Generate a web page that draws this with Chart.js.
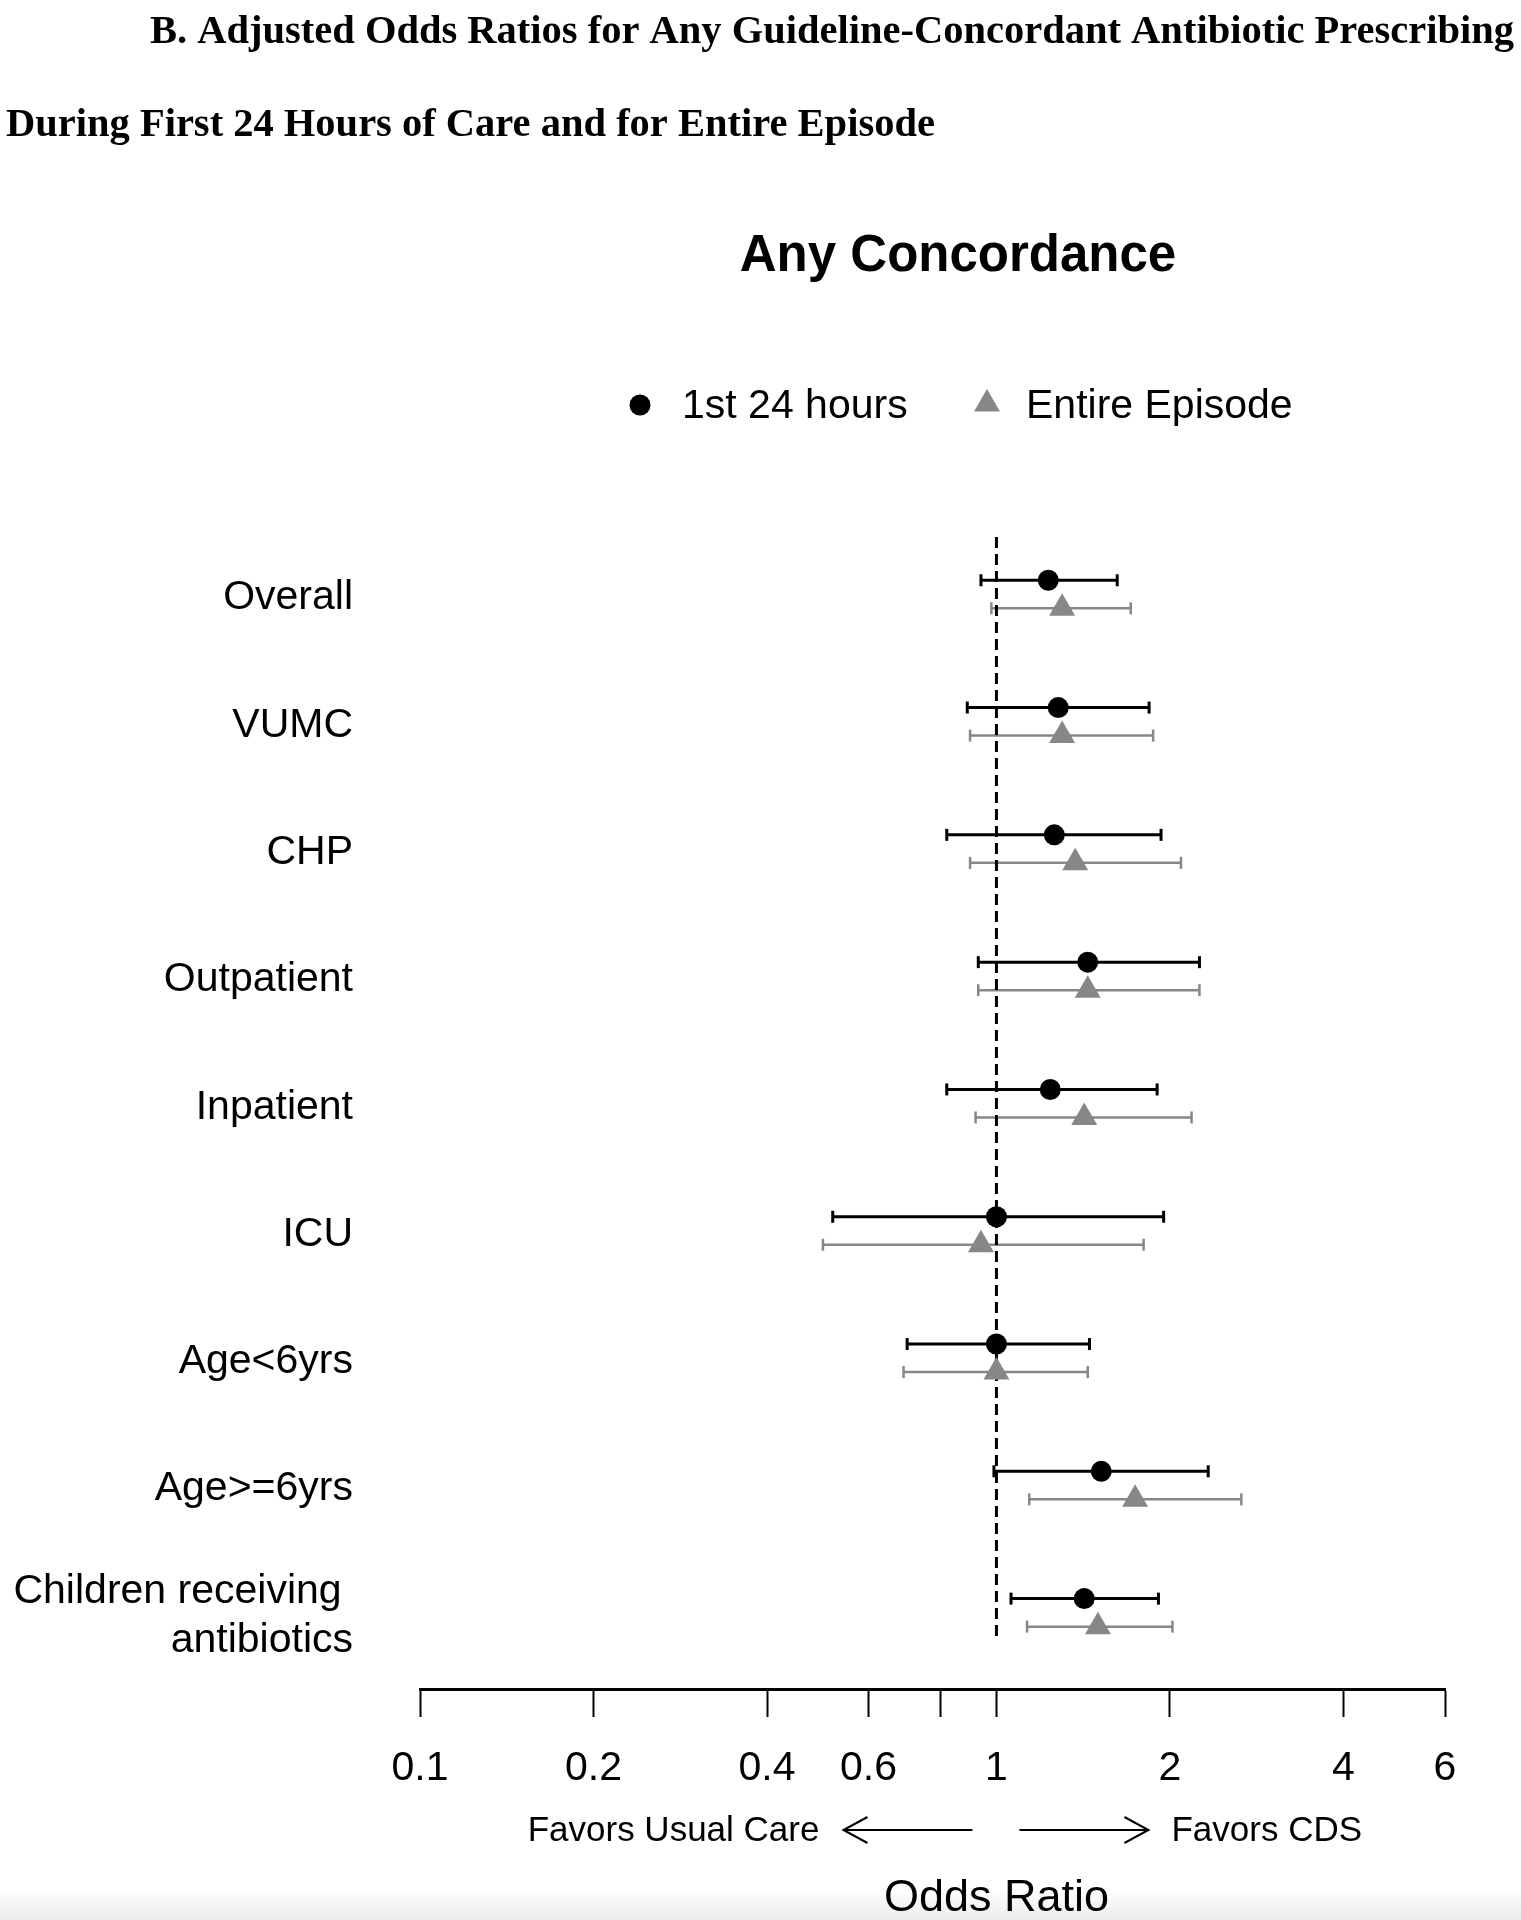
<!DOCTYPE html>
<html>
<head>
<meta charset="utf-8">
<title>Any Concordance - adjusted odds ratios</title>
<script src="https://cdn.jsdelivr.net/npm/chart.js@4.4.1/dist/chart.umd.min.js"></script>
<style>
  html, body { margin: 0; padding: 0; }
  body {
    width: 1521px; height: 1920px; overflow: hidden;
    background: linear-gradient(to bottom, #fff 0, #fff 1888px, #ececec 1920px);
  }
</style>
</head>
<body>
<canvas id="forest" width="1521" height="1920"></canvas>
<script>
// ---- data ----
const rowLabels = ['Overall', 'VUMC', 'CHP', 'Outpatient', 'Inpatient', 'ICU',
  'Age<6yrs', 'Age>=6yrs', ['Children receiving ', 'antibiotics']];

const seriesNames = ['1st 24 hours', 'Entire Episode'];

// 1st 24 hours: odds ratio with 95% CI
const first24OR = [1.23, 1.28, 1.26, 1.44, 1.24, 1.00, 1.00, 1.52, 1.42];
const first24Lo = [0.94, 0.89, 0.82, 0.93, 0.82, 0.52, 0.70, 0.99, 1.06];
const first24Hi = [1.62, 1.84, 1.93, 2.25, 1.90, 1.95, 1.45, 2.33, 1.91];

// Entire episode: odds ratio with 95% CI
const entireOR = [1.30, 1.30, 1.37, 1.44, 1.42, 0.94, 1.00, 1.74, 1.50];
const entireLo = [0.98, 0.90, 0.90, 0.93, 0.92, 0.50, 0.69, 1.14, 1.13];
const entireHi = [1.71, 1.87, 2.09, 2.25, 2.18, 1.80, 1.44, 2.66, 2.02];

const xTickValues = [0.1, 0.2, 0.4, 0.6, 0.8, 1, 2, 4, 6];
const xTickLabels = ['0.1', '0.2', '0.4', '0.6', '', '1', '2', '4', '6'];

const headingLines = [
  'B. Adjusted Odds Ratios for Any Guideline-Concordant Antibiotic Prescribing',
  'During First 24 Hours of Care and for Entire Episode',
];
const panelTitle = 'Any Concordance';
const axisTitle = 'Odds Ratio';
const favorsLeft = 'Favors Usual Care';
const favorsRight = 'Favors CDS';

// ---- styling ----
const SANS = '"Liberation Sans", Arial, Helvetica, sans-serif';
const SERIF = '"Liberation Serif", "Times New Roman", serif';
const BLACK = '#000000';
const GREY = '#878787';
const ROW_SHIFT = 0.11;    // vertical split of the two series inside a row
const LABEL_NUDGE = 0.03;  // row labels sit a touch below the row centre

/** one confidence interval: a line with vertical end caps */
function ciDataset(lo, hi, y, color, width) {
  return {
    type: 'scatter',
    showLine: true,
    data: [{ x: lo, y }, { x: hi, y }],
    borderColor: color,
    borderWidth: width,
    pointStyle: 'line',
    pointRotation: 90,
    pointRadius: 6,
    pointBorderWidth: width,
    pointBorderColor: color,
    order: 3,
  };
}

const datasets = [
  {
    label: seriesNames[0],
    data: first24OR.map((v, i) => ({ x: v, y: i - ROW_SHIFT })),
    pointStyle: 'circle',
    pointRadius: 10.5,
    pointBackgroundColor: BLACK,
    pointBorderColor: BLACK,
    pointBorderWidth: 0,
    order: 0,
  },
  {
    label: seriesNames[1],
    data: entireOR.map((v, i) => ({ x: v, y: i + ROW_SHIFT })),
    pointStyle: 'triangle',
    pointRadius: 15,
    pointBackgroundColor: GREY,
    pointBorderColor: GREY,
    pointBorderWidth: 0,
    order: 0,
  },
  {
    // reference line at OR = 1
    data: [{ x: 1, y: -0.45 }, { x: 1, y: 8.2 }],
    showLine: true,
    borderColor: BLACK,
    borderWidth: 3,
    borderDash: [11, 6],
    pointRadius: 0,
    order: 1,
  },
];
first24OR.forEach((_, i) => {
  datasets.push(ciDataset(first24Lo[i], first24Hi[i], i - ROW_SHIFT, BLACK, 3));
  datasets.push(ciDataset(entireLo[i], entireHi[i], i + ROW_SHIFT, GREY, 2.5));
});

/** headings, legend, "favors" arrows and axis title */
const annotationPlugin = {
  id: 'annotations',
  afterDraw(chart) {
    const { ctx } = chart;
    const xs = chart.scales.x;
    const one = xs.getPixelForValue(1);
    ctx.save();
    ctx.fillStyle = BLACK;
    ctx.strokeStyle = BLACK;

    ctx.font = 'bold 40.5px ' + SERIF;
    ctx.textAlign = 'left';
    ctx.textBaseline = 'alphabetic';
    ctx.fillText(headingLines[0], 150, 43);
    ctx.fillText(headingLines[1], 6, 136);

    ctx.font = 'bold 51px ' + SANS;
    ctx.textAlign = 'center';
    ctx.fillText(panelTitle, 958, 271);

    // legend
    const pts = chart.data.datasets.slice(0, 2);
    const legendX = [[640, 682], [987, 1026]];
    pts.forEach((ds, k) => {
      ctx.fillStyle = ds.pointBackgroundColor;
      Chart.helpers.drawPoint(ctx, {
        pointStyle: ds.pointStyle, radius: ds.pointRadius, borderWidth: 0, rotation: 0,
      }, legendX[k][0], k === 0 ? 405 : 404);
      ctx.fillStyle = BLACK;
      ctx.font = '41px ' + SANS;
      ctx.textAlign = 'left';
      ctx.fillText(ds.label, legendX[k][1], 418);
    });

    // favors arrows
    ctx.font = '35px ' + SANS;
    ctx.textAlign = 'right';
    ctx.fillText(favorsLeft, one - 177, 1841);
    ctx.textAlign = 'left';
    ctx.fillText(favorsRight, one + 175, 1841);
    ctx.lineWidth = 2;
    const arrow = (from, to) => {
      const dir = Math.sign(to - from);
      ctx.beginPath();
      ctx.moveTo(from, 1830);
      ctx.lineTo(to, 1830);
      ctx.moveTo(to - dir * 24, 1817);
      ctx.lineTo(to, 1830);
      ctx.lineTo(to - dir * 24, 1843);
      ctx.stroke();
    };
    arrow(one - 24, one - 153);
    arrow(one + 23, one + 152);

    ctx.font = '45px ' + SANS;
    ctx.textAlign = 'center';
    ctx.fillText(axisTitle, one, 1911);
    ctx.restore();
  },
};

new Chart(document.getElementById('forest'), {
  type: 'scatter',
  data: { datasets },
  options: {
    responsive: false,
    animation: false,
    events: [],
    layout: { padding: { left: 0, right: 76, top: 537, bottom: 0 } },
    plugins: {
      legend: { display: false },
      tooltip: { enabled: false },
    },
    scales: {
      x: {
        type: 'logarithmic',
        min: 0.1,
        max: 6,
        afterBuildTicks: s => { s.ticks = xTickValues.map(v => ({ value: v })); },
        afterFit: s => { s.height = 231; },
        ticks: {
          callback: (v, i) => xTickLabels[i],
          autoSkip: false,
          maxRotation: 0,
          minRotation: 0,
          padding: 27,
          color: BLACK,
          font: { family: SANS, size: 41 },
        },
        grid: { drawOnChartArea: false, drawTicks: true, tickLength: 28, tickWidth: 2, tickColor: BLACK },
        border: { display: true, color: BLACK, width: 3 },
      },
      y: {
        type: 'linear',
        reverse: true,
        min: -0.45,
        max: 8.6,
        afterBuildTicks: s => { s.ticks = rowLabels.map((_, i) => ({ value: i + LABEL_NUDGE })); },
        afterFit: s => { s.width = 420; },
        ticks: {
          callback: (v, i) => rowLabels[i],
          autoSkip: false,
          padding: 67,
          color: BLACK,
          font: { family: SANS, size: 41, lineHeight: 1.2 },
        },
        grid: { display: false, drawTicks: false },
        border: { display: false },
      },
    },
  },
  plugins: [annotationPlugin],
});
</script>
</body>
</html>
